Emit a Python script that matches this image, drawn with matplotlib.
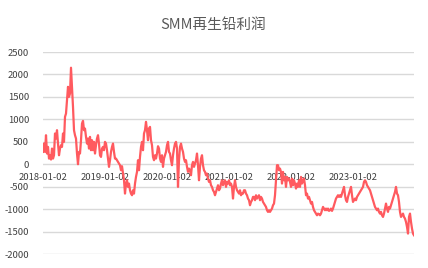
import matplotlib
matplotlib.use("Agg")
import matplotlib.pyplot as plt
import pandas as pd

plt.rcParams['font.family'] = ['Noto Sans CJK SC', 'DejaVu Sans']

title = "SMM再生铅利润"

profit_2018_2020 = [
    275, 460, 275, 646, 238, 386, 126, 200, 104, 349, 126, 200, 684, 572, 758, 460,
    200, 349, 424, 386, 684, 498, 1055, 1129, 1427, 1724, 1501, 1575, 2150, 1724,
    1278, 758, 646, 572, 238, 0, 275, 238, 535, 906, 966, 758, 795, 609, 460, 572,
    349, 609, 312, 535, 312, 498, 238, 424, 572, 646, 460, 200, 163, 349, 386, 312,
    498, 460, 312, 126, -59, 89, 275, 386, 460, 275, 126, 126, 89, 52, 15, -22,
    -134, -45, -208, -357, -654, -431, -357, -505, -431, -580, -654, -691, -580,
    -654, -431, -282, -171, 89, -134, 163, 386, 498, 312, 684, 758, 944, 758, 535,
    795, 832, 535, 424, 163, 89, 200, 126, 238, 401, 349, 126, 52, 200, -59, 126,
    200, 275, 424, 498, 275, 238, 89, -22, 200, 349, 460, 498, 349, -505, 89, 386,
    460, 349, 275, 126, 52, 89, -59, -171, -97, -134, -245, -22, 52, -59, 15, 89,
    238, -22, -357, -59, 126, 200, -22, -134, -171, -245, -208, -319, -394, -357,
    -468, -505, -580, -617, -691, -617, -542, -468,
]

profit_2021_2023 = [
    -580, -542, -431, -357, -468, -394, -357, -505, -394, -431, -357, -468, -431,
    -505, -765, -505, -357, -505, -580, -617, -654, -580, -691, -654, -654, -580,
    -580, -654, -691, -765, -802, -914, -840, -802, -728, -728, -802, -691, -765,
    -728, -691, -802, -728, -765, -840, -877, -914, -951, -1025, -1062, -1025,
    -1062, -1025, -988, -914, -877, -691, -357, -22, -22, -134, -97, -171, -431,
    -171, -357, -282, -505, -282, -357, -319, -394, -505, -319, -468, -357, -431,
    -542, -431, -505, -357, -505, -282, -431, -357, -319, -468, -691, -654, -765,
    -728, -802, -877, -840, -951, -1025, -1062, -1100, -1137, -1100, -1114, -1137,
    -1100, -1025, -951, -988, -1025, -988, -1025, -988, -1040, -1025, -988, -1040,
    -988, -914, -840, -765, -728, -691, -728, -691, -728, -654, -580, -505, -691,
    -802, -840, -728, -654, -580, -505, -691, -840, -802, -765, -802, -728, -691,
    -654, -617, -580, -542, -505, -394, -357, -394, -468, -505, -542, -580, -654,
    -728, -802, -877, -951, -988, -1025, -988, -1062, -1100, -1062, -1137, -1174,
    -1100, -988, -877, -988, -1062, -951, -988, -914, -840, -765, -691, -617, -505,
    -654, -691, -840, -1062, -1174, -1137, -1100, -1174, -1211, -1285, -1397,
    -1545, -1174, -1100, -1285, -1434, -1545, -1583,
]

tick_labels = ["2018-01-02", "2019-01-02", "2020-01-02", "2021-01-02", "2022-01-02", "2023-01-02"]
y_ticks = [-2000, -1500, -1000, -500, 0, 500, 1000, 1500, 2000, 2500]

values = profit_2018_2020 + profit_2021_2023
dates = pd.date_range("2018-01-02", "2023-12-29", periods=len(values))

fig = plt.figure(figsize=(4.28, 2.68), dpi=100)
ax = fig.add_axes([43 / 428, 14 / 268, 371 / 428, 202 / 268])

ax.plot(dates, values, color="#ff5a5f", linewidth=1.6, solid_joinstyle="round")

ax.set_ylim(-2000, 2500)
ax.set_xlim(dates[0], dates[-1])
ax.set_yticks(y_ticks)
ax.set_yticklabels([str(v) for v in y_ticks])
ax.grid(axis="y", color="#d9d9d9", linewidth=1.0)
ax.set_axisbelow(True)
for s in ax.spines.values():
    s.set_visible(False)
ax.spines["bottom"].set_position(("data", 0))

ax.set_xticks([pd.Timestamp(t) for t in tick_labels])
ax.set_xticklabels(tick_labels)
ax.tick_params(axis="x", length=0, pad=6, labelsize=6.8, labelcolor="#404040")
ax.tick_params(axis="y", length=0, pad=10, labelsize=6.8, labelcolor="#404040")

fig.text(213 / 428, 1 - 25 / 268, title, ha="center", va="center", fontsize=10.5, color="#595959")

fig.savefig("out.png", dpi=100)
